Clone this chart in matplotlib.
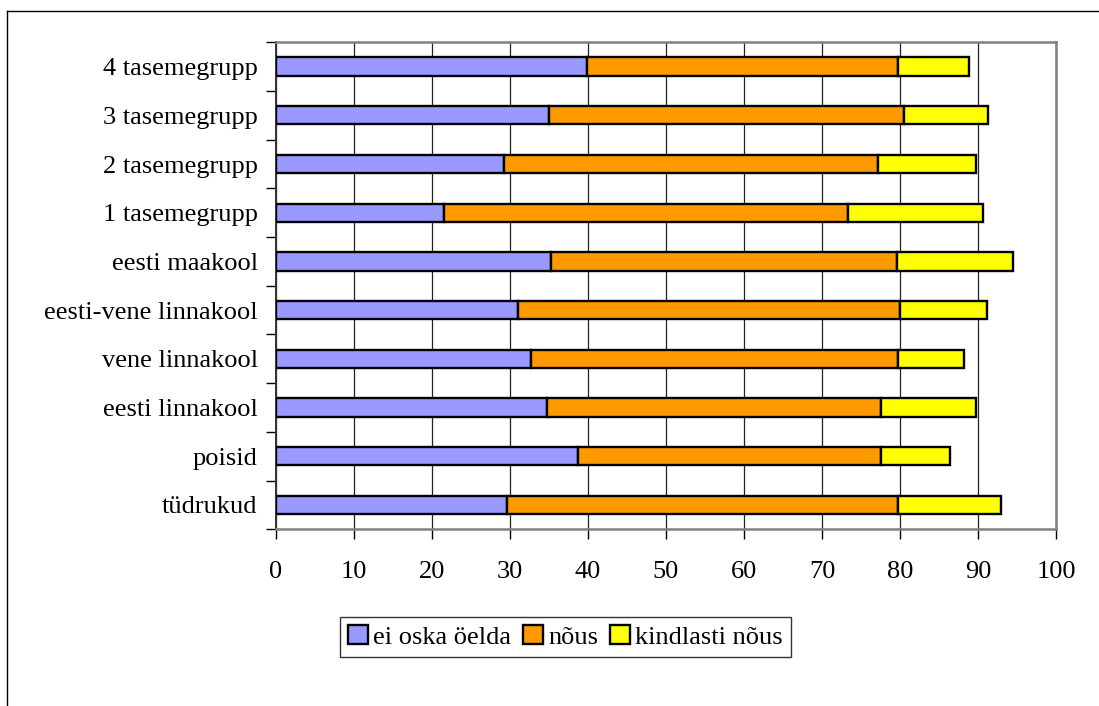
import matplotlib
matplotlib.use("Agg")
import matplotlib.pyplot as plt
from matplotlib.lines import Line2D
import numpy as np

plt.rcParams['font.family'] = ['Liberation Serif', 'DejaVu Serif']

categories = ["tüdrukud", "poisid", "eesti linnakool", "vene linnakool",
              "eesti-vene linnakool", "eesti maakool", "1 tasemegrupp",
              "2 tasemegrupp", "3 tasemegrupp", "4 tasemegrupp"]
ei_oska = [29.7, 38.8, 34.8, 32.7, 31.0, 35.3, 21.5, 29.3, 35.0, 39.9]
nous = [50.0, 38.8, 42.8, 47.0, 49.0, 44.3, 51.8, 47.9, 45.5, 39.9]
kindlasti = [13.3, 8.8, 12.1, 8.5, 11.1, 14.9, 17.3, 12.5, 10.8, 9.0]
series_names = ["ei oska öelda", "nõus", "kindlasti nõus"]
colors = ["#9999FF", "#FF9900", "#FFFF00"]
xticks = [0, 10, 20, 30, 40, 50, 60, 70, 80, 90, 100]

FS = 19

fig = plt.figure(figsize=(10.99, 7.06), dpi=100)
ax = fig.add_axes([0.2509, 0.2503, 0.7100, 0.6898])

y = np.arange(len(categories))
left = np.zeros(len(categories))
handles = []
for vals, name, c in zip([ei_oska, nous, kindlasti], series_names, colors):
    b = ax.barh(y, vals, left=left, height=0.376, color=c, edgecolor="black",
                linewidth=1.7, label=name, zorder=3)
    handles.append(b)
    left = left + np.array(vals)

ax.set_xlim(0, 100)
ax.set_ylim(-0.5, len(categories) - 0.5)
ax.set_xticks(xticks)
ax.set_xticklabels([str(t) for t in xticks], fontsize=FS)
ax.set_yticks(np.arange(-0.5, len(categories), 1.0))
ax.set_yticklabels([])
ax.set_yticks(y, minor=True)
ax.set_yticklabels(categories, minor=True, fontsize=FS)
ax.tick_params(axis='y', which='major', length=7, width=1, color='black', direction='out')
ax.tick_params(axis='y', which='minor', length=0, pad=13)
ax.tick_params(axis='x', which='major', length=7, width=1, color='black', direction='out', pad=16)

ax.xaxis.grid(True, color='#222222', linewidth=0.9, zorder=0)
ax.set_axisbelow(True)
for side in ['top', 'right', 'bottom']:
    ax.spines[side].set_color('#808080')
    ax.spines[side].set_linewidth(1.8)
ax.spines['left'].set_color('#333333')
ax.spines['left'].set_linewidth(1.4)

leg = fig.legend(handles=handles, labels=series_names, loc='center',
                 bbox_to_anchor=(565.5 / 1099, 1 - 637 / 706), ncol=3,
                 fontsize=FS, frameon=True, fancybox=False, edgecolor='black',
                 handlelength=0.75, handleheight=0.75, handletextpad=0.2,
                 columnspacing=0.45, borderpad=0.32, borderaxespad=0)
leg.get_frame().set_linewidth(1.0)
for p in leg.get_patches():
    p.set_linewidth(1.7)

ytop = 1 - 10.7 / 706
xleft = 7.0 / 1099
fig.add_artist(Line2D([xleft, 1.0], [ytop, ytop], color='black', linewidth=1.0, transform=fig.transFigure))
fig.add_artist(Line2D([xleft, xleft], [0.0, ytop], color='black', linewidth=1.0, transform=fig.transFigure))

fig.savefig("out.png", dpi=100)
